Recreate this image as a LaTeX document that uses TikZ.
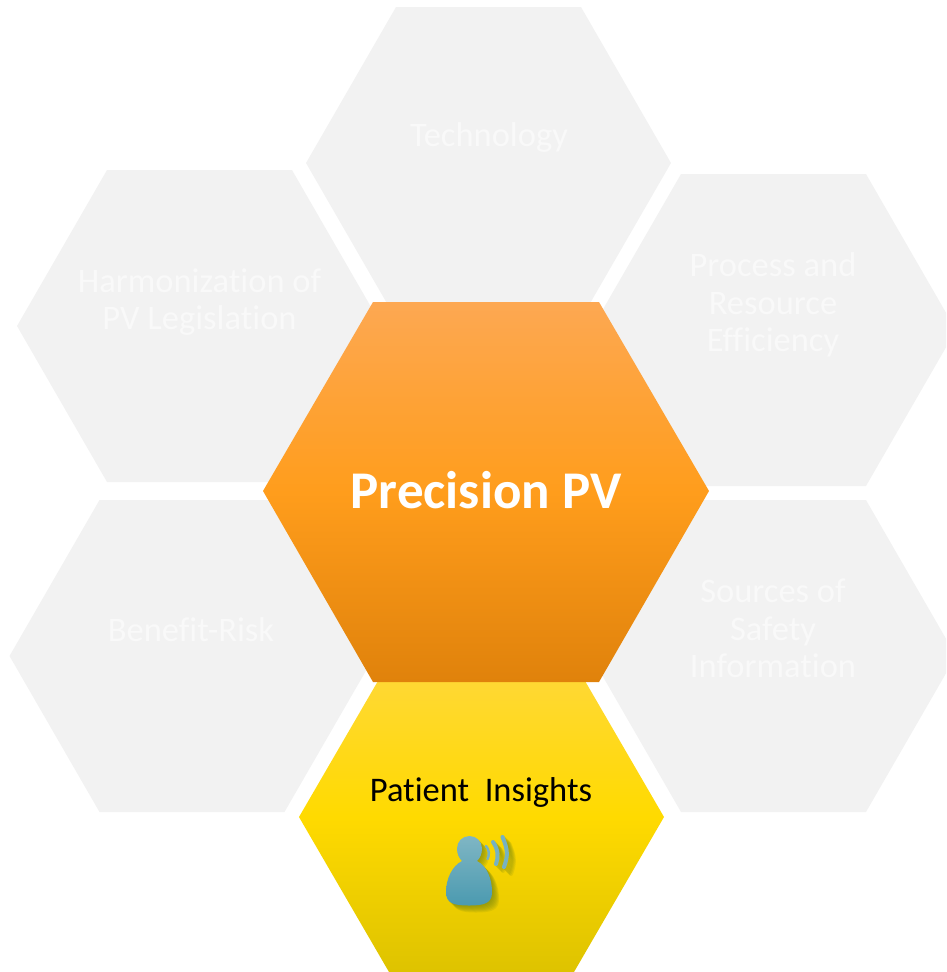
\documentclass[tikz,border=0pt]{standalone}
\usepackage{fontspec}
\setmainfont[Ligatures=NoCommon]{Carlito}
\definecolor{cellgray}{HTML}{F2F2F2}
\definecolor{celltext}{HTML}{F9F9F9}
\definecolor{hubtop}{HTML}{FDA852}
\definecolor{hubmid}{HTML}{FF9D1C}
\definecolor{hubbot}{HTML}{E0820B}
\definecolor{goldtop}{HTML}{FFD83A}
\definecolor{goldmid}{HTML}{FFDA00}
\definecolor{goldbot}{HTML}{DEC300}
\definecolor{icontop}{HTML}{7FB6C4}
\definecolor{iconbot}{HTML}{4B9AB0}
\definecolor{iconshade}{HTML}{7C8A10}
\tikzset{
  cell/.style={fill=cellgray},
  celllabel/.style={text=celltext,align=center,font=\fontsize{34.5}{37.5}\selectfont,inner sep=0pt},
  hub/.style={top color=hubtop,bottom color=hubbot,middle color=hubmid},
  gold/.style={top color=goldtop,bottom color=goldbot,middle color=goldmid},
  iconshadow/.style={iconshade,opacity=0.15},
  wave/.style={icontop!85!iconbot,line cap=round},
}
\newcommand{\personpath}{(469.5,836) .. controls (476.5,836) and (482,841.5) .. (482,848.5)
  .. controls (482,854) and (480,858) .. (477,861)
  .. controls (487,866) and (492,879) .. (492,892)
  .. controls (492,903) and (485,905.5) .. (469,905.5)
  .. controls (453,905.5) and (446,903) .. (446,892)
  .. controls (446,879) and (452,866) .. (462,861)
  .. controls (459,858) and (457,854) .. (457,848.5)
  .. controls (457,841.5) and (462.5,836) .. (469.5,836) -- cycle}
\begin{document}
\begin{tikzpicture}[x=1pt,y=-1pt]
\useasboundingbox (0,0) rectangle (946,972);
\clip (0,0) rectangle (946,972);
% gray cells
\foreach \cx/\cy in {488.5/163,199.5/326,773.5/330,192/656,773.5/656} {
  \fill [cell] (\cx-182.5,\cy) -- (\cx-92.5,\cy-156) -- (\cx+92.5,\cy-156) -- (\cx+182.5,\cy)
    -- (\cx+92.5,\cy+156) -- (\cx-92.5,\cy+156) -- cycle;
}
\node (tech) [celllabel] at (489,137) {Technology};
\node (harm) [celllabel] at (199.5,302) {Harmonization of\\PV Legislation};
\node (proc) [celllabel] at (773,305) {Process and\\Resource\\Efficiency};
\node (risk) [celllabel] at (191,630) {Benefit-Risk};
\node (safe) [celllabel] at (773,628.5) {Sources of\\Safety\\Information};
% patient cell
\shade [gold] (299,817) -- (389,662) -- (574,662) -- (664,817) -- (574,972) -- (389,972) -- cycle;
\node (patient) [inner sep=0pt,font=\fontsize{34.5}{38}\selectfont] at (481,792) {Patient\ \ Insights};
% center cell
\shade [hub] (263,491) -- (373,302) -- (599,302) -- (709,491) -- (599,682) -- (373,682) -- cycle;
\node (center) [text=white,inner sep=0pt,font=\bfseries\fontsize{53}{60}\selectfont] at (486,490) {Precision PV};
% icon shadow
\foreach \off in {1,2,...,7} {
  \fill [iconshadow,shift={(\off pt,-\off pt)}] \personpath;
  \draw [iconshadow,line width=4pt,line cap=round,shift={(\off pt,-\off pt)}]
    (502.5,837) .. controls (508,850) and (508,856) .. (504,867)
    (493,842) .. controls (498.5,850) and (498.5,857) .. (496,864);
}
% icon
\shade [top color=icontop,bottom color=iconbot] \personpath;
\draw [wave,line width=4pt]
  (502.5,837) .. controls (508,850) and (508,856) .. (504,867)
  (493,842) .. controls (498.5,850) and (498.5,857) .. (496,864);
\draw [wave,line width=2.5pt] (486,846) .. controls (489.5,850) and (489.5,855) .. (487.5,859);
\end{tikzpicture}
\end{document}
